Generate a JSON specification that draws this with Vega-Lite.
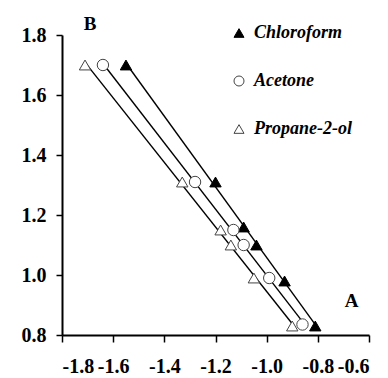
{
  "$schema": "https://vega.github.io/schema/vega-lite/v6.json",
  "autosize": {"type": "none"},
  "padding": {"left": 62, "top": 35, "right": 19, "bottom": 43},
  "width": 307,
  "height": 300,
  "background": "white",
  "config": {
    "view": {"stroke": null},
    "axis": {
      "grid": false,
      "domainColor": "black",
      "domainWidth": 2,
      "tickColor": "black",
      "tickWidth": 1.5,
      "labelFont": "Liberation Serif",
      "labelFontWeight": "bold",
      "labelFontSize": 20,
      "labelColor": "black",
      "title": null
    }
  },
  "datasets": {
    "pts": [
      {"x": -1.55, "y": 1.70, "series": "Chloroform"},
      {"x": -1.20, "y": 1.31, "series": "Chloroform"},
      {"x": -1.09, "y": 1.16, "series": "Chloroform"},
      {"x": -1.04, "y": 1.10, "series": "Chloroform"},
      {"x": -0.93, "y": 0.98, "series": "Chloroform"},
      {"x": -0.81, "y": 0.83, "series": "Chloroform"},
      {"x": -1.64, "y": 1.70, "series": "Acetone"},
      {"x": -1.28, "y": 1.31, "series": "Acetone"},
      {"x": -1.13, "y": 1.15, "series": "Acetone"},
      {"x": -1.09, "y": 1.10, "series": "Acetone"},
      {"x": -0.99, "y": 0.99, "series": "Acetone"},
      {"x": -0.86, "y": 0.835, "series": "Acetone"},
      {"x": -1.71, "y": 1.70, "series": "Propane-2-ol"},
      {"x": -1.33, "y": 1.31, "series": "Propane-2-ol"},
      {"x": -1.18, "y": 1.15, "series": "Propane-2-ol"},
      {"x": -1.14, "y": 1.10, "series": "Propane-2-ol"},
      {"x": -1.05, "y": 0.99, "series": "Propane-2-ol"},
      {"x": -0.90, "y": 0.83, "series": "Propane-2-ol"}
    ],
    "labels": [
      {"x": -1.69, "y": 1.838, "t": "B"},
      {"x": -0.668, "y": 0.915, "t": "A"}
    ]
  },
  "layer": [
    {
      "data": {"name": "pts"},
      "transform": [{"regression": "y", "on": "x", "groupby": ["series"]}],
      "mark": {"type": "line", "color": "black", "strokeWidth": 1.4},
      "encoding": {
        "x": {"field": "x", "type": "quantitative"},
        "y": {"field": "y", "type": "quantitative"},
        "detail": {"field": "series"}
      }
    },
    {
      "data": {"name": "pts"},
      "mark": {"type": "point", "filled": false, "opacity": 1, "strokeWidth": 1},
      "encoding": {
        "x": {
          "field": "x", "type": "quantitative",
          "scale": {"domain": [-1.8, -0.6], "nice": false, "zero": false},
          "axis": {"values": [-1.8, -1.6, -1.4, -1.2, -1.0, -0.8, -0.6], "format": ".1f", "labelExpr": "replace(datum.label, '\u2212', '-')", "tickSize": 7, "labelPadding": 14}
        },
        "y": {
          "field": "y", "type": "quantitative",
          "scale": {"domain": [0.8, 1.8], "nice": false, "zero": false},
          "axis": {"values": [0.8, 1.0, 1.2, 1.4, 1.6, 1.8], "format": ".1f", "tickSize": 6, "labelPadding": 10}
        },
        "shape": {
          "field": "series", "type": "nominal",
          "scale": {"domain": ["Chloroform", "Acetone", "Propane-2-ol"], "range": ["triangle-up", "circle", "triangle-up"]},
          "legend": {
            "orient": "none", "legendX": 168, "legendY": -11, "title": null, "padding": 0,
            "labelFont": "Liberation Serif", "labelFontStyle": "italic", "labelFontWeight": "bold",
            "labelFontSize": 18, "labelColor": "black", "symbolSize": 100, "rowPadding": 30,
            "labelOffset": 6, "symbolStrokeWidth": 1, "direction": "vertical"
          }
        },
        "fill": {
          "field": "series", "type": "nominal",
          "scale": {"domain": ["Chloroform", "Acetone", "Propane-2-ol"], "range": ["black", "white", "white"]},
          "legend": null
        },
        "stroke": {
          "field": "series", "type": "nominal",
          "scale": {"domain": ["Chloroform", "Acetone", "Propane-2-ol"], "range": ["black", "#444444", "#444444"]},
          "legend": null
        },
        "size": {"value": 130}
      }
    },
    {
      "data": {"name": "labels"},
      "mark": {"type": "text", "font": "Liberation Serif", "fontWeight": "bold", "fontSize": 19, "color": "black"},
      "encoding": {
        "x": {"field": "x", "type": "quantitative"},
        "y": {"field": "y", "type": "quantitative"},
        "text": {"field": "t"}
      }
    }
  ]
}
